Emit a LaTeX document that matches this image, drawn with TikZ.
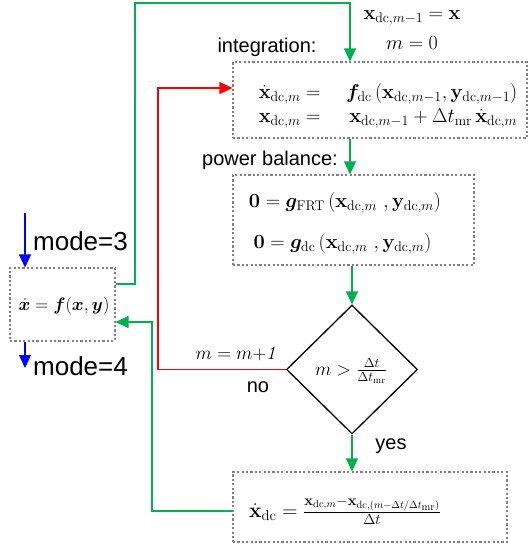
\RequirePackage{fix-cm}
\documentclass[tikz,border=0pt]{standalone}
\usepackage{amsmath}
\usepackage{bm}
\usepackage[no-math]{fontspec}
\newfontfamily\arialf{Liberation Sans}
\usetikzlibrary{arrows.meta,shapes.geometric}
\definecolor{flowgreen}{RGB}{0,176,80}
\definecolor{boxgray}{RGB}{128,128,128}
\tikzset{
  dbox/.style={draw=boxgray,line width=1.1pt,dash pattern=on 2.2pt off 2.2pt,rectangle,inner sep=0pt},
  garrow/.style={draw=flowgreen,line width=1.3pt,-{Triangle[length=13pt,width=12pt]}},
  rarrow/.style={draw=red,line width=1.3pt,-{Triangle[length=13pt,width=12pt]}},
  barrow/.style={draw=blue,line width=1.3pt,-{Triangle[length=13pt,width=12pt]}},
  lbl/.style={font=\arialf\fontsize{20}{24}\selectfont,inner sep=0pt},
  modelbl/.style={font=\arialf\fontsize{26}{30}\selectfont,inner sep=0pt},
  mth/.style={font=\fontsize{20}{24}\selectfont,inner sep=0pt},
}
\begin{document}
\begin{tikzpicture}[x=1pt,y=-1pt]
\useasboundingbox (0,0) rectangle (531,549);
% boxes
\node[dbox,minimum width=105pt,minimum height=73pt] (lb) at (62.5,304.5) {};
\node[mth,font=\fontsize{18}{22}\selectfont] (lbt) at (64,306) {$\dot{\bm{x}}=\bm{f}(\bm{x},\bm{y})$};
\node[dbox,minimum width=294pt,minimum height=76pt] (ib) at (380,100) {};
\node[mth] (ibt) at (388,106) {$\begin{array}{@{}r@{\quad\;}r@{}}
\dot{\mathbf{x}}_{\mathrm{dc},m}= & \bm{f}_{\mathrm{dc}}\left(\mathbf{x}_{\mathrm{dc},m-1},\mathbf{y}_{\mathrm{dc},m-1}\right)\\[0pt]
\mathbf{x}_{\mathrm{dc},m}= & \mathbf{x}_{\mathrm{dc},m-1}+\Delta t_{\mathrm{mr}}\,\dot{\mathbf{x}}_{\mathrm{dc},m}
\end{array}$};
\node[dbox,minimum width=241pt,minimum height=90pt] (pb) at (353.5,220) {};
\node[mth] (pb1) at (345,203) {$\mathbf{0}=\bm{g}_{\mathrm{FRT}}\left(\mathbf{x}_{\mathrm{dc},m}\ ,\mathbf{y}_{\mathrm{dc},m}\right)$};
\node[mth] (pb2) at (342.5,244) {$\mathbf{0}=\bm{g}_{\mathrm{dc}}\left(\mathbf{x}_{\mathrm{dc},m}\ ,\mathbf{y}_{\mathrm{dc},m}\right)$};
\node[draw=black,line width=1.3pt,diamond,inner sep=0pt,minimum width=131pt,minimum height=129pt] (dm) at (352,369.5) {};
\node[mth,font=\fontsize{19}{23}\selectfont] (dmt) at (351,371) {$m>\frac{\Delta t}{\Delta t_{\mathrm{mr}}}$};
\node[dbox,minimum width=274pt,minimum height=70pt] (bb) at (370,507) {};
\node[mth,font=\fontsize{21}{25}\selectfont] (bbt) at (345,511) {$\dot{\mathbf{x}}_{\mathrm{dc}}=\frac{\mathbf{x}_{\mathrm{dc},m}-\mathbf{x}_{\mathrm{dc},(m-\Delta t/\Delta t_{\mathrm{mr}})}}{\Delta t}$};
% labels
\node[mth] (init1) at (412,18) {$\mathbf{x}_{\mathrm{dc},m-1}=\mathbf{x}$};
\node[mth] (init2) at (412,43) {$m=0$};
\node[lbl] (intl) at (267,47) {integration:};
\node[lbl] (pwl) at (270,160) {power balance:};
\node[modelbl] (m3) at (80.5,241) {mode=3};
\node[modelbl] (m4) at (80.5,366) {mode=4};
\node[mth,font=\fontsize{19}{23}\selectfont] (inc) at (237,354) {$m=m{+}\mathit{1}$};
\node[lbl] (no) at (258,387) {no};
\node[lbl] (yes) at (391,446) {yes};
% connectors
\coordinate (b3) at (25,213);
\coordinate (b4) at (25,368);
\draw[barrow] (b3) -- (b3 |- lb.north);
\draw[barrow] (b4 |- lb.south) -- (b4);
\draw[garrow] (lb.east |- 0,284) -- (135,284) -- (135,3) -- (350,3) -- (350,0 |- ib.north);
\draw[garrow] (350,0 |- ib.south) -- (350,0 |- pb.north);
\draw[garrow] (dm.north |- pb.south) -- (dm.north);
\draw[garrow] (dm.south) -- (dm.south |- bb.north);
\draw[rarrow] (dm.west) -- (158,0 |- dm.west) -- (158,88) -- (ib.west |- 0,88);
\draw[garrow] (bb.west |- 0,511) -- (152,511) -- (152,322) -- (lb.east |- 0,322);
\end{tikzpicture}
\end{document}
